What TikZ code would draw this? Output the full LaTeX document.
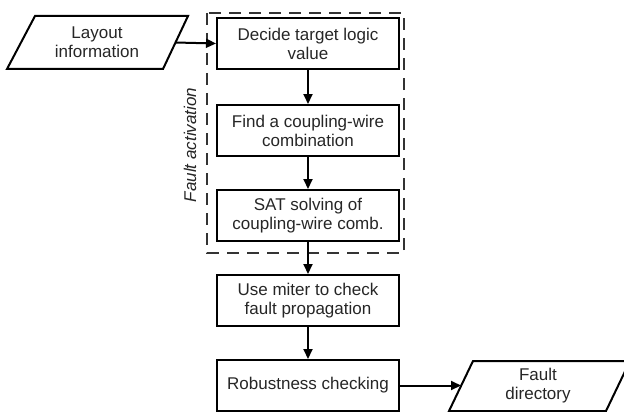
\documentclass[tikz,border=0pt]{standalone}
\usepackage{fontspec}
\setmainfont{Liberation Sans}
\usetikzlibrary{arrows.meta}
\begin{document}
\begin{tikzpicture}[x=1pt,y=-1pt,
  every node/.style={font=\fontsize{17}{19}\selectfont, text=black!85},
  procbox/.style={draw, line width=2pt, minimum width=182pt, minimum height=51pt, inner sep=0pt, align=center},
  shapeline/.style={line width=2pt, line join=miter},
  flow/.style={line width=2pt, -{Triangle[length=10pt,width=9pt]}},
  groupbox/.style={line width=1.5pt, dash pattern=on 12pt off 8pt, draw=black!80}
]
\useasboundingbox (0,0) rectangle (624,412);

% group frame
\draw[groupbox] (207,13) rectangle (404,253);
\node[rotate=90, font=\fontsize{17}{19}\selectfont\itshape] (fa) at (190,145) {Fault activation};

% process boxes
\node[procbox] (decide) at (308,43.5) {Decide target logic\\value};
\node[procbox] (find) at (308,130.5) {Find a coupling-wire\\combination};
\node[procbox] (sat) at (308,215.5) {SAT solving of\\coupling-wire comb.};
\node[procbox] (miter) at (308,300.5) {Use miter to check\\fault propagation};
\node[procbox] (robust) at (308,385.5) {Robustness checking};

% input parallelogram
\draw[shapeline] (35,16) -- (188,16) -- (163,69) -- (7,69) -- cycle;
\node[align=center] (layout) at (97,42.5) {Layout\\information};
\coordinate (layR) at (175.5,42.5);

% output parallelogram
\draw[shapeline] (473,361) -- (630,361) -- (606,411) -- (449,411) -- cycle;
\node[align=center] (fault) at (538,386) {Fault\\directory};
\coordinate (faultL) at (461,385.5);

% connectors
\draw[flow] (layR) -- (decide.west);
\draw[flow] (decide.south) -- (find.north);
\draw[flow] (find.south) -- (sat.north);
\draw[flow] (sat.south) -- (miter.north);
\draw[flow] (miter.south) -- (robust.north);
\draw[flow] (robust.east) -- (faultL);
\end{tikzpicture}
\end{document}
